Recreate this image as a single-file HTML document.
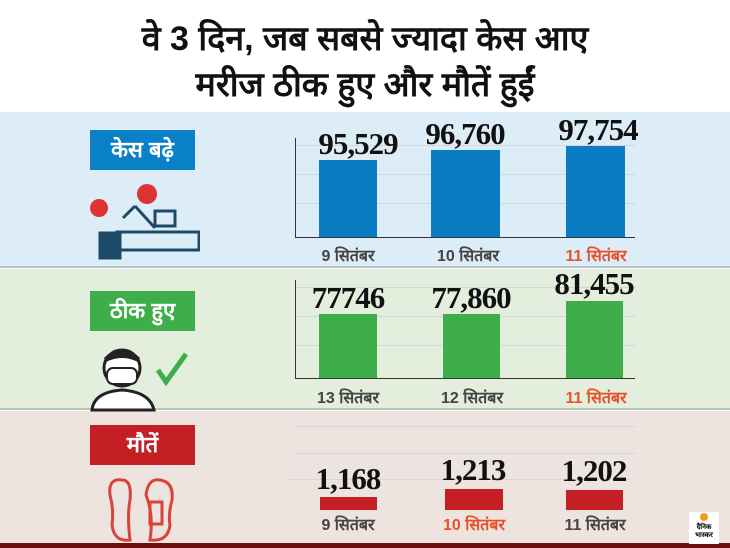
<!DOCTYPE html>
<html><head><meta charset="utf-8"><style>
*{margin:0;padding:0;box-sizing:border-box}
body{width:730px;height:548px;position:relative;overflow:hidden;background:#fff;font-family:"Liberation Sans","Noto Sans CJK SC",sans-serif}
.a{position:absolute}
.t{font-family:"Liberation Sans","Noto Sans CJK SC",sans-serif;font-weight:bold;font-size:34px;color:#111;text-align:center;width:730px;left:0}
.num{position:absolute;font-family:"Liberation Serif",serif;font-weight:bold;font-size:31px;color:#111;text-align:center;letter-spacing:-1px}
.lbl{position:absolute;font-size:16px;color:#444;text-align:center;width:120px;font-weight:bold}
.box{position:absolute;left:90px;width:105px;color:#fff;font-weight:bold;font-size:22px;text-align:center}
.g{position:absolute;height:1px;background:#cfd8dc}
</style></head><body>
<div class="a t" style="top:14px">वे 3 दिन, जब सबसे ज्यादा केस आए</div>
<div class="a t" style="top:60px">मरीज ठीक हुए और मौतें हुईं</div>

<div class="a" style="left:0;top:112px;width:730px;height:156px;background:#ddedf8;border-bottom:2px solid #b8c4cc"></div>
<div class="a" style="left:0;top:269px;width:730px;height:141px;background:#e3eedd;border-bottom:2px solid #b8c8b0"></div>
<div class="a" style="left:0;top:411px;width:730px;height:132px;background:#ede3df"></div>
<div class="a" style="left:0;top:543px;width:730px;height:5px;background:#6b0f10"></div>

<div class="box" style="top:130px;height:40px;line-height:40px;background:#0a80c6">केस बढ़े</div>
<div class="box" style="top:291px;height:40px;line-height:40px;background:#3fae4a">ठीक हुए</div>
<div class="box" style="top:425px;height:40px;line-height:40px;background:#c41f25">मौतें</div>

<div class="g" style="left:296px;top:145px;width:340px"></div>
<div class="g" style="left:296px;top:174px;width:340px"></div>
<div class="g" style="left:296px;top:203px;width:340px"></div>
<div class="a" style="left:295px;top:138px;width:1px;height:100px;background:#333"></div>
<div class="a" style="left:295px;top:237px;width:340px;height:1px;background:#333"></div>
<div class="a" style="left:319px;top:160px;width:58px;height:77px;background:#0a7cc4"></div>
<div class="a" style="left:431px;top:150px;width:69px;height:87px;background:#0a7cc4"></div>
<div class="a" style="left:566px;top:146px;width:59px;height:91px;background:#0a7cc4"></div>
<div class="num" style="left:308px;top:126px;width:100px">95,529</div>
<div class="num" style="left:415px;top:116px;width:100px">96,760</div>
<div class="num" style="left:548px;top:112px;width:100px">97,754</div>
<div class="lbl" style="left:288px;top:244px">9 सितंबर</div>
<div class="lbl" style="left:408px;top:244px">10 सितंबर</div>
<div class="lbl" style="left:536px;top:244px;color:#e8502a">11 सितंबर</div>

<div class="g" style="left:296px;top:287px;width:340px"></div>
<div class="g" style="left:296px;top:316px;width:340px"></div>
<div class="g" style="left:296px;top:345px;width:340px"></div>
<div class="a" style="left:295px;top:280px;width:1px;height:99px;background:#333"></div>
<div class="a" style="left:295px;top:378px;width:340px;height:1px;background:#333"></div>
<div class="a" style="left:319px;top:314px;width:58px;height:64px;background:#3fae4a"></div>
<div class="a" style="left:443px;top:314px;width:57px;height:64px;background:#3fae4a"></div>
<div class="a" style="left:566px;top:301px;width:57px;height:77px;background:#3fae4a"></div>
<div class="num" style="left:298px;top:280px;width:100px">77746</div>
<div class="num" style="left:421px;top:280px;width:100px">77,860</div>
<div class="num" style="left:544px;top:266px;width:100px">81,455</div>
<div class="lbl" style="left:288px;top:386px">13 सितंबर</div>
<div class="lbl" style="left:412px;top:386px">12 सितंबर</div>
<div class="lbl" style="left:536px;top:386px;color:#e8502a">11 सितंबर</div>

<div class="g" style="left:296px;top:426px;width:340px"></div>
<div class="g" style="left:296px;top:453px;width:340px"></div>
<div class="g" style="left:290px;top:479px;width:340px"></div>
<div class="a" style="left:320px;top:497px;width:57px;height:13px;background:#c41f25"></div>
<div class="a" style="left:445px;top:489px;width:58px;height:21px;background:#c41f25"></div>
<div class="a" style="left:566px;top:490px;width:57px;height:20px;background:#c41f25"></div>
<div class="num" style="left:298px;top:461px;width:100px">1,168</div>
<div class="num" style="left:423px;top:452px;width:100px">1,213</div>
<div class="num" style="left:544px;top:453px;width:100px">1,202</div>
<div class="lbl" style="left:288px;top:513px">9 सितंबर</div>
<div class="lbl" style="left:414px;top:513px;color:#e8502a">10 सितंबर</div>
<div class="lbl" style="left:535px;top:513px">11 सितंबर</div>

<svg class="a" style="left:85px;top:178px" width="115" height="88">
<g fill="#d33"><circle cx="14" cy="30" r="9"/><circle cx="62" cy="16" r="10"/></g>
<g stroke="#1d4a66" stroke-width="3" fill="#1d4a66">
<rect x="15" y="55" width="20" height="25"/><rect x="32" y="54" width="82" height="18" fill="none"/><rect x="70" y="33" width="20" height="15" fill="none"/>
<line x1="38" y1="40" x2="50" y2="28"/><line x1="50" y1="28" x2="70" y2="50"/></g>
</svg>
<svg class="a" style="left:90px;top:340px" width="110" height="72">
<circle cx="32" cy="28" r="18" fill="#fff" stroke="#222" stroke-width="3"/>
<path d="M14 18 Q32 0 50 18 L48 22 Q32 14 16 22Z" fill="#222"/>
<rect x="17" y="28" width="30" height="16" rx="6" fill="#fff" stroke="#222" stroke-width="2"/>
<path d="M2 70 Q4 52 32 50 Q60 52 64 70Z" fill="#fff" stroke="#222" stroke-width="3"/>
<path d="M68 30 L76 42 L96 14" stroke="#3fae4a" stroke-width="5" fill="none"/>
</svg>
<svg class="a" style="left:100px;top:470px" width="80" height="72">
<g fill="none" stroke="#d9433a" stroke-width="3">
<path d="M10 25 Q8 8 22 10 Q32 10 30 30 Q27 45 30 70 Q14 72 12 55 Q14 40 10 25Z"/>
<path d="M46 25 Q48 8 60 10 Q74 12 72 30 Q68 45 70 55 Q68 72 50 70 Q54 45 46 25Z"/>
<rect x="50" y="32" width="12" height="22"/></g>
</svg>
<div class="a" style="left:689px;top:512px;width:30px;height:32px;background:#fff;font-size:7px;font-weight:bold;text-align:center;padding-top:12px;line-height:8px">दैनिक<br>भास्कर</div>
<div class="a" style="left:700px;top:513px;width:8px;height:8px;border-radius:50%;background:#f39b1c"></div>
</body></html>
